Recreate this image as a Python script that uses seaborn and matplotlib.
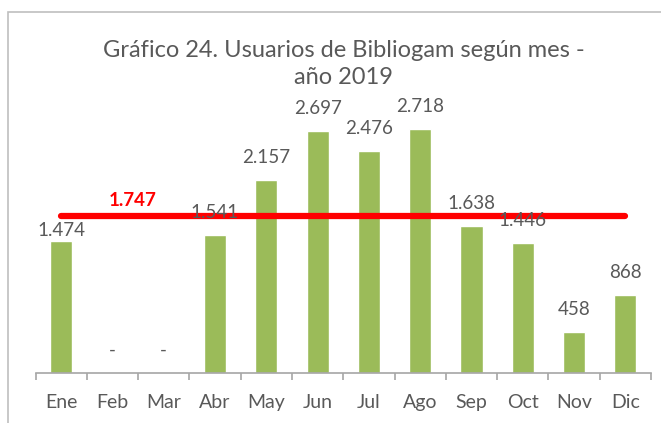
import matplotlib
matplotlib.use("Agg")
import matplotlib.pyplot as plt
import seaborn as sns
import numpy as np
from matplotlib.patches import Rectangle

# Datos del gráfico
meses = ['Ene', 'Feb', 'Mar', 'Abr', 'May', 'Jun', 'Jul', 'Ago', 'Sep', 'Oct', 'Nov', 'Dic']
usuarios = [1474, 0, 0, 1541, 2157, 2697, 2476, 2718, 1638, 1446, 458, 868]
promedio = 1747

titulo = 'Gráfico 24. Usuarios de Bibliogam según mes -\naño 2019'

sns.set_theme(style="white")
plt.rcParams['font.family'] = ['Lato', 'DejaVu Sans']

gris = '#595959'
verde = '#9BBB59'

fig = plt.figure(figsize=(6.61, 4.23), dpi=100)
ax = fig.add_axes([35.5 / 661, 50 / 423, 615.5 / 661, 269 / 423])

sns.barplot(x=meses, y=usuarios, color=verde, width=0.43, saturation=1, ax=ax)

# Línea del promedio
x_pos = np.arange(len(meses))
ax.plot(x_pos, [promedio] * len(meses), color='#FF0000', lw=4.5, solid_capstyle='round', zorder=5)
ax.annotate(f"{promedio:,}".replace(',', '.'), xy=(1.4, promedio), xytext=(0, 5),
            textcoords='offset points', ha='center', va='bottom',
            color='#FF0000', fontsize=13.5, fontweight='bold')

# Etiquetas de datos (la de enero va pegada a la barra)
for i, v in enumerate(usuarios):
    txt = f"{v:,}".replace(',', '.') if v > 0 else '-'
    off = 1 if i == 0 else 10
    ax.annotate(txt, xy=(i, v), xytext=(0, off), textcoords='offset points',
                ha='center', va='bottom', color=gris, fontsize=13.5, zorder=6)

ax.set_xlim(-0.5, len(meses) - 0.5)
ax.set_ylim(0, 3000)
ax.set_yticks([])
ax.set_xlabel('')
ax.set_ylabel('')
for s in ['top', 'right', 'left']:
    ax.spines[s].set_visible(False)
ax.spines['bottom'].set_color('#a6a6a6')
ax.spines['bottom'].set_linewidth(1.2)

ax.set_xticks(np.arange(-0.5, len(meses)), minor=True)
ax.tick_params(axis='x', which='minor', length=5, width=1.2, color='#a6a6a6', bottom=True)
ax.tick_params(axis='x', which='major', length=0, labelsize=14, labelcolor=gris, pad=15)

fig.text(0.52, 1 - 64 / 423, titulo, ha='center', va='center', color=gris,
         fontsize=17, linespacing=1.4)

# Borde del área del gráfico
fig.patches.append(Rectangle((8 / 661, -0.1), 1.2, 1 - 12 / 423 + 0.1, transform=fig.transFigure,
                             fill=False, edgecolor='#bfbfbf', lw=1.2, zorder=0))

fig.savefig('out.png', dpi=100)
